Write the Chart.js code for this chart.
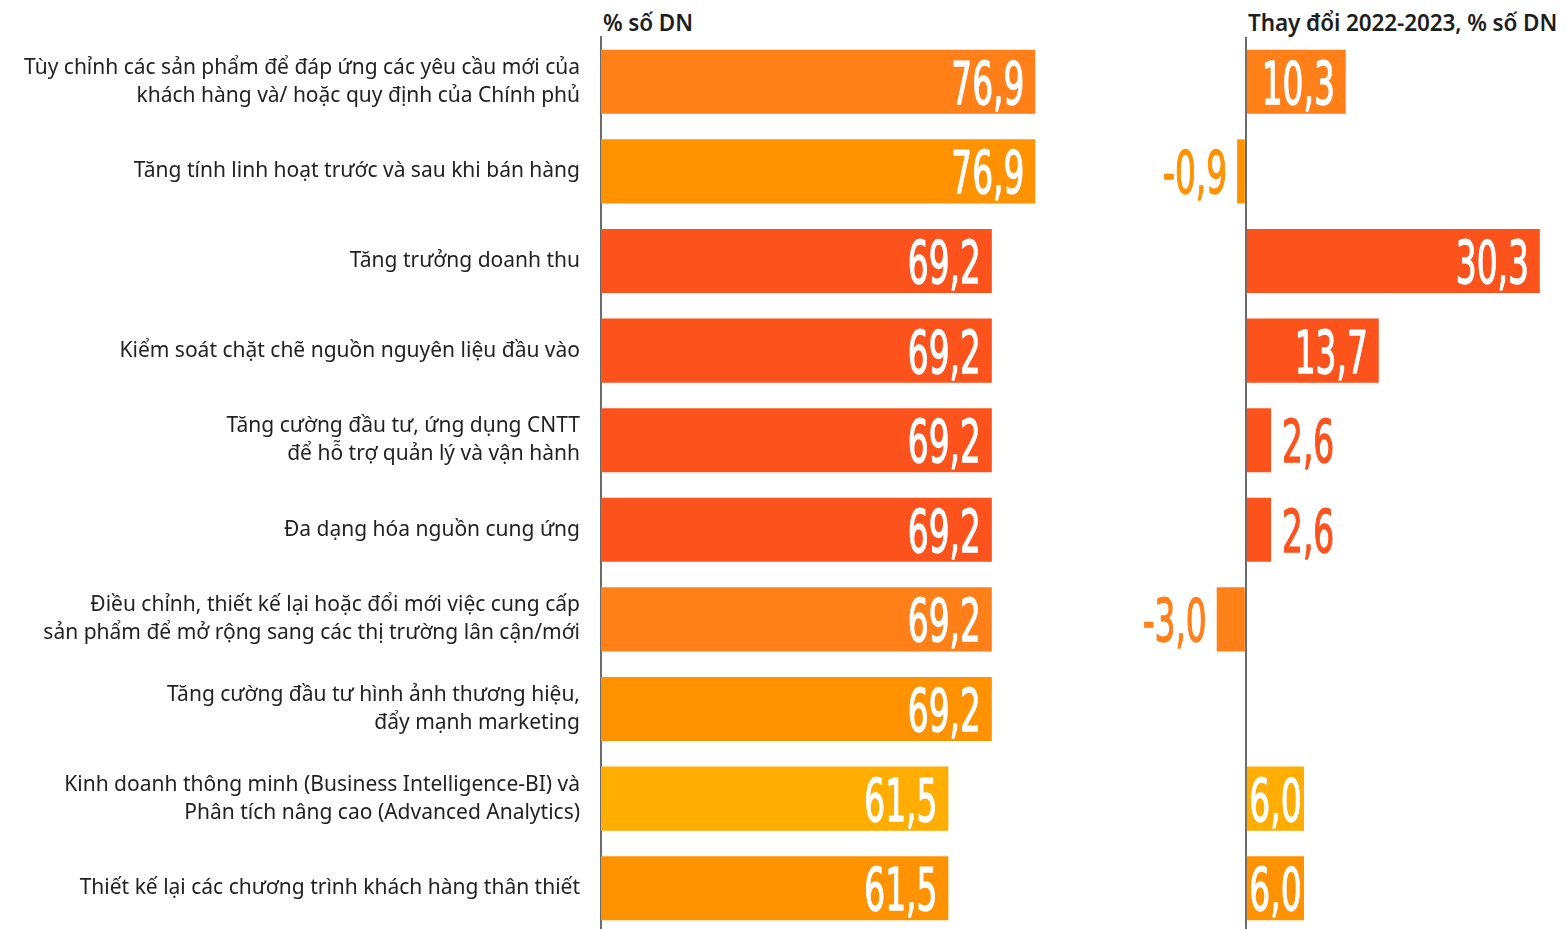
<!DOCTYPE html>
<html lang="vi">
<head>
<meta charset="utf-8">
<script src="https://cdn.jsdelivr.net/npm/chart.js@4.4.1/dist/chart.umd.min.js"></script>
<style>
  html, body { margin: 0; padding: 0; background: #fff; width: 1566px; height: 929px; overflow: hidden; }
  #wrapL { position: absolute; left: 0; top: 0; width: 1098px; height: 933px; }
  #wrapR { position: absolute; left: 1110px; top: 0; width: 456px; height: 933px; }
  .ttl { position: absolute; top: 7px; font-family: "Noto Sans", sans-serif; font-size: 22.5px; font-weight: 600; color: #1e1e1e; white-space: nowrap; letter-spacing: -0.1px; }
</style>
</head>
<body>
<div class="ttl" id="tL" style="left:603px;"></div>
<div class="ttl" id="tR" style="left:1248px;"></div>
<div id="wrapL"><canvas id="cL"></canvas></div>
<div id="wrapR"><canvas id="cR"></canvas></div>
<script>
const categories = [
  ["Tùy chỉnh các sản phẩm để đáp ứng các yêu cầu mới của", "khách hàng và/ hoặc quy định của Chính phủ"],
  ["Tăng tính linh hoạt trước và sau khi bán hàng"],
  ["Tăng trưởng doanh thu"],
  ["Kiểm soát chặt chẽ nguồn nguyên liệu đầu vào"],
  ["Tăng cường đầu tư, ứng dụng CNTT", "để hỗ trợ quản lý và vận hành"],
  ["Đa dạng hóa nguồn cung ứng"],
  ["Điều chỉnh, thiết kế lại hoặc đổi mới việc cung cấp", "sản phẩm để mở rộng sang các thị trường lân cận/mới"],
  ["Tăng cường đầu tư hình ảnh thương hiệu,", "đẩy mạnh marketing"],
  ["Kinh doanh thông minh (Business Intelligence-BI) và", "Phân tích nâng cao (Advanced Analytics)"],
  ["Thiết kế lại các chương trình khách hàng thân thiết"]
];
const shareValues  = [76.9, 76.9, 69.2, 69.2, 69.2, 69.2, 69.2, 69.2, 61.5, 61.5];
const changeValues = [10.3, -0.9, 30.3, 13.7, 2.6, 2.6, -3.0, null, 6.0, 6.0];
const barColors = ["#FF8019", "#FF9200", "#FC521C", "#FC521C", "#FC521C", "#FC521C", "#FF8019", "#FF9200", "#FFAD00", "#FF9200"];
const leftTitle = "% số DN";
const rightTitle = "Thay đổi 2022-2023, % số DN";

document.getElementById('tL').textContent = leftTitle;
document.getElementById('tR').textContent = rightTitle;

const NUM_FONT = '400 58px "Liberation Sans Narrow", "DejaVu Sans Condensed", "Roboto", sans-serif';

function fmt(v) { return v.toFixed(1).replace('.', ','); }

const valueLabels = {
  id: 'valueLabels',
  afterDatasetsDraw(chart) {
    const ctx = chart.ctx;
    const meta = chart.getDatasetMeta(0);
    const data = chart.data.datasets[0].data;
    ctx.save();
    ctx.font = NUM_FONT;
    ctx.textBaseline = 'alphabetic';
    const scaleX = 73 / ctx.measureText('76,9').width;
    meta.data.forEach((bar, i) => {
      const v = data[i];
      if (v === null || v === undefined) return;
      const txt = fmt(v);
      const m = ctx.measureText(txt);
      const w = m.width * scaleX;
      const asc = m.actualBoundingBoxAscent || 42;
      const yBase = bar.y + asc / 2;
      const barW = Math.abs(bar.x - bar.base);
      let xRight, color;
      if (v > 0 && barW >= w) {
        const pad = Math.min(11, (barW - w) / 2);
        xRight = bar.x - pad;
        color = '#ffffff';
      } else if (v > 0) {
        xRight = bar.x + 11 + w;
        color = barColors[i];
      } else {
        xRight = bar.x - 10;
        color = barColors[i];
      }
      ctx.save();
      ctx.translate(xRight, yBase);
      ctx.scale(scaleX, 1);
      ctx.fillStyle = color;
      ctx.strokeStyle = color;
      ctx.lineWidth = 1.3;
      ctx.lineJoin = 'round';
      ctx.textAlign = 'right';
      ctx.fillText(txt, 0, 0);
      ctx.strokeText(txt, 0, 0);
      ctx.restore();
    });
    ctx.restore();
  }
};

const common = {
  responsive: true,
  maintainAspectRatio: false,
  animation: false,
  indexAxis: 'y',
  plugins: { legend: { display: false }, tooltip: { enabled: false }, title: { display: false } },
};

new Chart(document.getElementById('cL'), {
  type: 'bar',
  data: {
    labels: categories,
    datasets: [{
      data: shareValues,
      backgroundColor: barColors,
      borderWidth: 0,
      categoryPercentage: 1.0,
      barPercentage: 0.715
    }]
  },
  options: Object.assign({}, common, {
    layout: { padding: { top: 37, bottom: 0, left: 0, right: 0 } },
    scales: {
      x: { display: false, min: 0, max: 88 },
      y: {
        position: 'left',
        afterFit(s) { s.width = 601; s.paddingTop = 0; s.paddingBottom = 0; },
        grid: { display: false, drawTicks: false },
        border: { display: true, color: '#6b6b6b', width: 2 },
        ticks: {
          padding: 21,
          color: '#222222',
          font: { family: '"Noto Sans", sans-serif', size: 21, lineHeight: 1.33 },
          autoSkip: false
        }
      }
    }
  }),
  plugins: [valueLabels]
});

new Chart(document.getElementById('cR'), {
  type: 'bar',
  data: {
    labels: categories,
    datasets: [{
      data: changeValues,
      backgroundColor: barColors,
      borderWidth: 0,
      categoryPercentage: 1.0,
      barPercentage: 0.715
    }]
  },
  options: Object.assign({}, common, {
    layout: { padding: { top: 37, bottom: 0, left: 0, right: 0 } },
    scales: {
      x: {
        min: -14, max: 33,
        afterFit(s) { s.height = 0; },
        ticks: { display: false, stepSize: 1 },
        border: { display: false },
        grid: {
          drawTicks: false,
          lineWidth: 2,
          color: (c) => (c.tick && c.tick.value === 0) ? '#6b6b6b' : 'rgba(0,0,0,0)'
        }
      },
      y: { display: false }
    }
  }),
  plugins: [valueLabels]
});
</script>
</body>
</html>
